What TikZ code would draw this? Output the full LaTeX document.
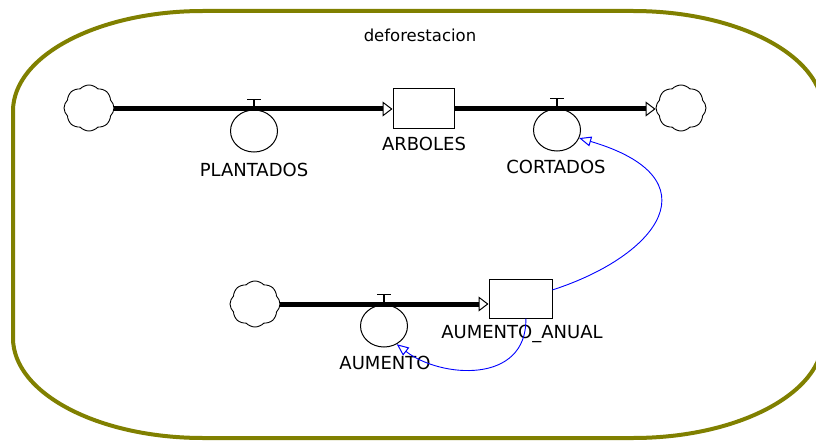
\documentclass[tikz,border=0pt]{standalone}
\usepackage{fontspec}
\setmainfont{DejaVu Sans}
\usetikzlibrary{arrows.meta,shapes.symbols,shapes.geometric}
\definecolor{marco}{RGB}{128,128,0}
\begin{document}
\begin{tikzpicture}[x=1pt,y=-1pt,
	nube/.style={draw,cloud,cloud puffs=8,cloud puff arc=95,aspect=1.1,minimum width=50pt,minimum height=46pt,inner sep=0pt,line width=0.9pt},
	nivel/.style={draw,rectangle,minimum width=61pt,minimum height=40pt,inner sep=0pt,line width=1pt},
	valvula/.style={draw,ellipse,minimum width=47pt,minimum height=42pt,inner sep=0pt,line width=1pt},
	flujo/.style={line width=5pt,-{Triangle[open,length=10pt,width=15pt,line width=1pt]}},
	info/.style={blue,line width=0.9pt,-{Triangle[open,length=12pt,width=10pt,line width=1pt]}},
	etiqueta/.style={inner sep=0pt,font=\fontsize{18}{20}\selectfont}]
	\useasboundingbox (0,0) rectangle (816,441);
	% marco del modelo
	\draw[marco,line width=4pt] (203,11) -- (633,11) arc[start angle=-90,end angle=0,x radius=190,y radius=100]
		-- (823,338) arc[start angle=0,end angle=90,x radius=190,y radius=100]
		-- (203,438) arc[start angle=90,end angle=180,x radius=190,y radius=100]
		-- (13,111) arc[start angle=180,end angle=270,x radius=190,y radius=100] -- cycle;
	\node[inner sep=0pt,font=\fontsize{16.5}{18}\selectfont] (titulo) at (420,35) {deforestacion};
	% arboles
	\node[nube] (fuente) at (89,108) {};
	\node[nube] (sumidero) at (681,108) {};
	\node[nivel] (arboles) at (423.5,109) {};
	\node[valvula] (plantados) at (254,131) {};
	\node[valvula] (cortados) at (557,130) {};
	\draw[flujo] (fuente.east |- arboles.west) -- (arboles.west);
	\draw[flujo] (arboles.east) -- (sumidero.west |- arboles.east);
	\draw[line width=1.5pt] (plantados.north) -- ++(0,-10) +(-7,0) -- +(7,0);
	\draw[line width=1.5pt] (cortados.north) -- ++(0,-10) +(-7,0) -- +(7,0);
	\node[etiqueta] (lplantados) at (254,170) {PLANTADOS};
	\node[etiqueta] (larboles) at (424,144) {ARBOLES};
	\node[etiqueta] (lcortados) at (556,167) {CORTADOS};
	% aumento anual
	\node[nube] (fuente2) at (255,304) {};
	\node[nivel,minimum width=63pt,minimum height=39pt] (anual) at (520.5,298.5) {};
	\node[valvula] (aumento) at (384,326) {};
	\draw[flujo] (fuente2.east) -- (fuente2.east -| anual.west);
	\draw[line width=1.5pt] (aumento.north) -- ++(0,-10) +(-7,0) -- +(7,0);
	\node[etiqueta] (lanual) at (522,334) {AUMENTO\_ANUAL};
	\node[etiqueta] (laumento) at (385,363) {AUMENTO};
	% conectores
	\draw[info] (anual.15) .. controls (660,255) and (715,178) .. (cortados.-20);
	\draw[info] (anual.-75) .. controls (527,385) and (440,378) .. (aumento.-55);
\end{tikzpicture}
\end{document}
